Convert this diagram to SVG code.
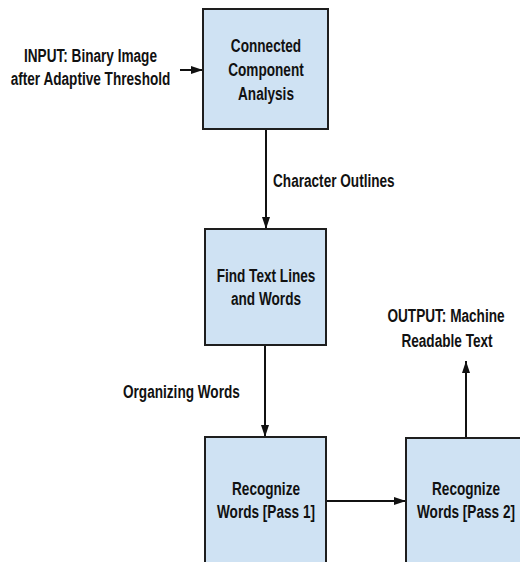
<svg xmlns="http://www.w3.org/2000/svg" width="520" height="562" viewBox="0 0 520 562">
  <defs>
    <style>
      .box { fill: #cfe2f3; stroke: #1e1e1e; stroke-width: 2; }
      .lbl { font-family: "Liberation Sans", Arial, sans-serif; font-weight: bold; font-size: 19px; fill: #111; }
      .c { text-anchor: middle; }
      .conn { stroke: #111; stroke-width: 2; fill: none; marker-end: url(#ah); }
    </style>
    <marker id="ah" viewBox="0 0 12 8" refX="12" refY="4" markerWidth="6" markerHeight="4" orient="auto" markerUnits="strokeWidth">
      <path d="M0,0 L12,4 L0,8 z" fill="#111"/>
    </marker>
  </defs>
  <rect width="520" height="562" fill="#fff"/>

  <g id="connectors">
    <line class="conn" x1="180" y1="70" x2="203" y2="70"/>
    <line class="conn" x1="266" y1="129" x2="266" y2="229"/>
    <line class="conn" x1="265" y1="345" x2="265" y2="437"/>
    <line class="conn" x1="326" y1="501" x2="406" y2="501"/>
    <line class="conn" x1="466" y1="438" x2="466" y2="361"/>
  </g>

  <g id="input-label">
    <text class="lbl c" transform="translate(90.5,62) scale(0.716,1)">INPUT: Binary Image</text>
    <text class="lbl c" transform="translate(90.5,85) scale(0.716,1)">after Adaptive Threshold</text>
  </g>

  <g id="node-cca">
    <rect class="box" x="203" y="9" width="125" height="120"/>
    <text class="lbl c" transform="translate(266,52) scale(0.716,1)">Connected</text>
    <text class="lbl c" transform="translate(266,76) scale(0.716,1)">Component</text>
    <text class="lbl c" transform="translate(266,100) scale(0.716,1)">Analysis</text>
  </g>

  <g id="label-char-outlines">
    <text class="lbl" transform="translate(273,187) scale(0.716,1)">Character Outlines</text>
  </g>

  <g id="node-find-lines">
    <rect class="box" x="205" y="229" width="121" height="116"/>
    <text class="lbl c" transform="translate(266,282) scale(0.716,1)">Find Text Lines</text>
    <text class="lbl c" transform="translate(266,305) scale(0.716,1)">and Words</text>
  </g>

  <g id="label-organizing">
    <text class="lbl" transform="translate(123,398) scale(0.716,1)">Organizing Words</text>
  </g>

  <g id="output-label">
    <text class="lbl c" transform="translate(446,322) scale(0.716,1)">OUTPUT: Machine</text>
    <text class="lbl c" transform="translate(447,347) scale(0.716,1)">Readable Text</text>
  </g>

  <g id="node-pass1">
    <rect class="box" x="205" y="437" width="121" height="140"/>
    <text class="lbl c" transform="translate(266,495) scale(0.716,1)">Recognize</text>
    <text class="lbl c" transform="translate(266,518) scale(0.716,1)">Words [Pass 1]</text>
  </g>

  <g id="node-pass2">
    <rect class="box" x="406" y="438" width="130" height="140"/>
    <text class="lbl c" transform="translate(466,495) scale(0.716,1)">Recognize</text>
    <text class="lbl c" transform="translate(466,518) scale(0.716,1)">Words [Pass 2]</text>
  </g>
</svg>
